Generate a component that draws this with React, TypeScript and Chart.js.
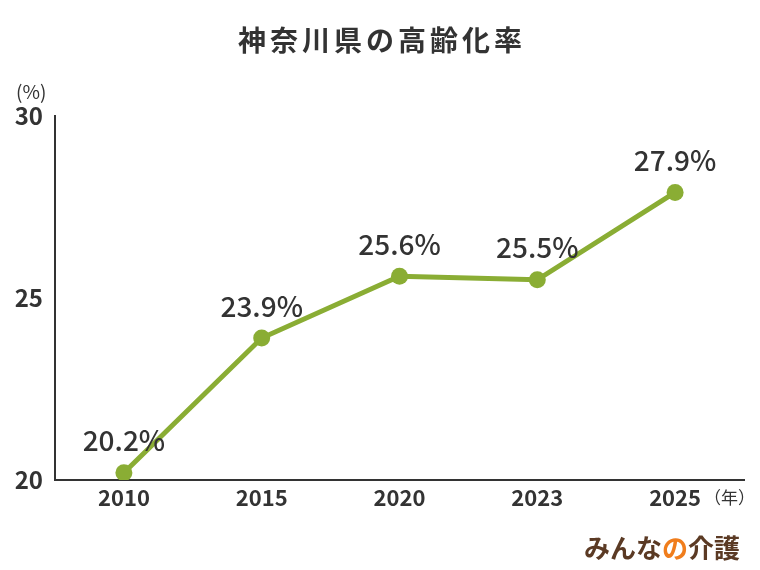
import { useEffect, useRef } from "react";
import { Chart, registerables } from "chart.js";

Chart.register(...registerables);

const years = ["2010", "2015", "2020", "2023", "2025"];
const rates = [20.2, 23.9, 25.6, 25.5, 27.9];
const yTicks = [20, 25, 30];

const JP = "'Noto Sans CJK JP', 'Noto Sans', sans-serif";
const GREEN = "#8aad34";
const DARK = "#333333";

// texts that sit outside the plot: title, unit labels, data labels, logo
const extrasPlugin = {
  id: "extras",
  afterDraw(chart: Chart) {
    const ctx = chart.ctx;
    ctx.save();

    ctx.fillStyle = DARK;
    ctx.textAlign = "center";
    ctx.textBaseline = "middle";
    ctx.font = `bold 28px ${JP}`;
    (ctx as any).letterSpacing = "4px";
    ctx.fillText("神奈川県の高齢化率", 382, 40);
    (ctx as any).letterSpacing = "0px";

    ctx.font = `19px ${JP}`;
    ctx.textAlign = "left";
    ctx.fillText("(%)", 16, 92);

    ctx.font = `17px ${JP}`;
    ctx.fillText("（年）", 704, 498);

    // value labels above each point
    const meta = chart.getDatasetMeta(0);
    ctx.font = `500 28px ${JP}`;
    ctx.textAlign = "center";
    meta.data.forEach((pt: any, i: number) => {
      ctx.fillText(rates[i].toFixed(1) + "%", pt.x, pt.y - 32);
    });

    // logo
    ctx.font = `bold 26px ${JP}`;
    ctx.textAlign = "left";
    let x = 584;
    const parts: [string, string][] = [
      ["みんな", "#5b3a24"],
      ["の", "#f07d1c"],
      ["介護", "#5b3a24"],
    ];
    parts.forEach(([t, c]) => {
      ctx.fillStyle = c;
      ctx.fillText(t, x, 548);
      x += ctx.measureText(t).width;
    });

    ctx.restore();
  },
};

export default function App() {
  const chartRef = useRef<HTMLCanvasElement>(null);
  const chartInstance = useRef<Chart | null>(null);

  useEffect(() => {
    document.body.style.margin = "0";
    if (chartRef.current) {
      const ctx = chartRef.current.getContext("2d");
      if (ctx) {
        if (chartInstance.current) {
          chartInstance.current.destroy();
        }

        chartInstance.current = new Chart(ctx, {
          type: "line",
          data: {
            labels: years,
            datasets: [
              {
                data: rates,
                borderColor: GREEN,
                backgroundColor: GREEN,
                borderWidth: 5,
                pointRadius: 8.5,
                pointBackgroundColor: GREEN,
                pointBorderWidth: 0,
                tension: 0,
              },
            ],
          },
          options: {
            responsive: false,
            animation: false,
            layout: { padding: { top: 116, right: 16, bottom: 0, left: 0 } },
            plugins: {
              legend: { display: false },
              tooltip: { enabled: false },
            },
            scales: {
              x: {
                offset: true,
                grid: { display: false, drawTicks: false },
                border: { color: DARK, width: 2 },
                ticks: {
                  color: DARK,
                  padding: 4,
                  font: { family: JP, size: 22, weight: "bold" },
                },
                afterFit(scale: any) {
                  scale.height = 90;
                },
              },
              y: {
                min: 20,
                max: 30,
                afterBuildTicks(scale: any) {
                  scale.ticks = yTicks.map((v) => ({ value: v }));
                },
                grid: { display: false, drawTicks: false },
                border: { color: DARK, width: 2 },
                ticks: {
                  color: DARK,
                  padding: 12,
                  font: { family: JP, size: 24, weight: "bold" },
                },
                afterFit(scale: any) {
                  scale.width = 55;
                },
              },
            },
          },
          plugins: [extrasPlugin],
        });
      }
    }

    return () => {
      if (chartInstance.current) {
        chartInstance.current.destroy();
      }
    };
  }, []);

  return (
    <div style={{ width: 760, height: 570, background: "#fff" }}>
      <canvas ref={chartRef} width={760} height={570}></canvas>
    </div>
  );
}
